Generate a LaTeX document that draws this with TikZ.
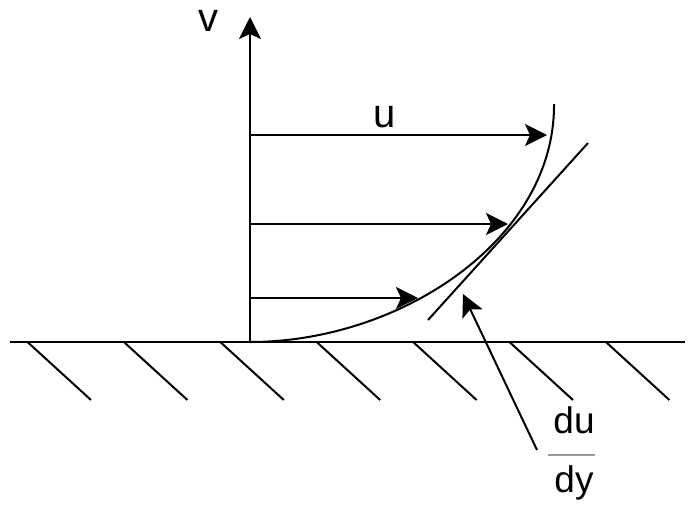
\documentclass[tikz,border=0pt]{standalone}
\usepackage{fontspec}
\setmainfont{Liberation Sans}
\usetikzlibrary{arrows.meta}
\begin{document}
\begin{tikzpicture}[x=1pt,y=-1pt,
  ln/.style={line width=2pt, black},
  arr/.style={ln, -{Stealth[length=22pt,width=22pt,inset=5pt]}},
  lbl/.style={font=\fontsize{40}{48}\selectfont, inner sep=0pt},
  frac/.style={font=\fontsize{37}{44}\selectfont, inner sep=0pt, anchor=base}]
\useasboundingbox (0,0) rectangle (692,509);
% ground
\coordinate (gl) at (10,342);
\coordinate (gr) at (685,342);
\draw[ln] (gl) -- (gr);
\foreach \i in {0,...,6}{
  \coordinate (hs\i) at ({27.5+96.4*\i},342);
  \coordinate (he\i) at ({91+96.4*\i},400);
  \draw[ln] (hs\i) -- (he\i);
}
% axis
\coordinate (o) at (250,342);
\coordinate (vt) at (250,17);
\draw[arr] (o) -- (vt);
\node[lbl] (v) at (208,21) {v};
% velocity arrows
\coordinate (a1s) at (250,135); \coordinate (a1e) at (547,135);
\coordinate (a2s) at (250,224); \coordinate (a2e) at (508,224);
\coordinate (a3s) at (250,298); \coordinate (a3e) at (418,298);
\draw[arr] (a1s) -- (a1e);
\draw[arr] (a2s) -- (a2e);
\draw[arr] (a3s) -- (a3e);
\node[lbl] (u) at (385,117) {u};
% profile
\coordinate (ct) at (554,104);
\draw[ln] (o) .. controls (400,342) and (555,240) .. (ct);
% tangent
\coordinate (t1) at (428,320);
\coordinate (t2) at (588,143);
\draw[ln] (t1) -- (t2);
% pointer
\coordinate (ps) at (537,450);
\coordinate (pe) at (463,294);
\draw[arr] (ps) -- (pe);
% fraction
\node[frac] (du) at (574,433) {du};
\node[frac] (dy) at (574,492) {dy};
\coordinate (f1) at (548,455);
\coordinate (f2) at (595,455);
\draw[line width=1.5pt, gray!80] (f1) -- (f2);
\end{tikzpicture}
\end{document}
